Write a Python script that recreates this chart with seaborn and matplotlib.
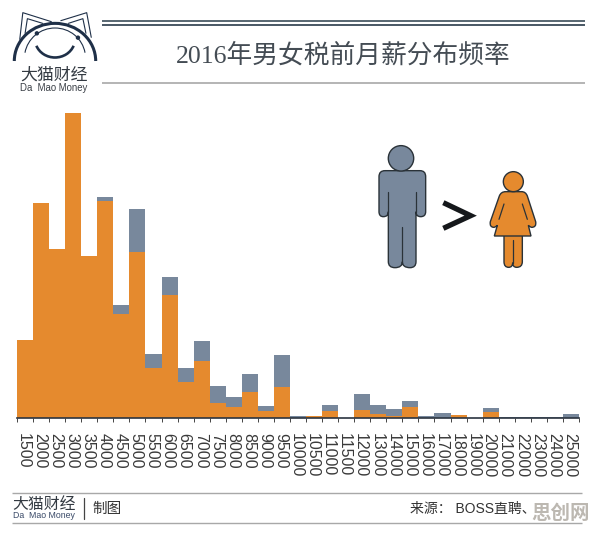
import numpy as np
import pandas as pd
import seaborn as sns
import matplotlib
matplotlib.use("Agg")
import matplotlib.pyplot as plt
from matplotlib.path import Path
from matplotlib.patches import PathPatch, Circle, Arc
from matplotlib.transforms import ScaledTranslation

# Monthly salary bands (yuan) and share of men / women in each band
salary_bands = ["1500", "2000", "2500", "3000", "3500", "4000", "4500", "5000", "5500",
                "6000", "6500", "7000", "7500", "8000", "8500", "9000", "9500", "10000",
                "10500", "11000", "11500", "12000", "13000", "14000", "15000", "16000",
                "17000", "18000", "19000", "20000", "21000", "22000", "23000", "24000", "25000"]
male_freq = [78, 214.7, 169.3, 304.7, 162, 220.7, 113, 208.7, 64, 140.7, 49.7, 77, 31.7,
             20.7, 44, 12, 63, 2, 2.3, 13, 0, 24.3, 13, 9, 17, 2, 4.7, 3.3, 0, 10.3,
             1, 1, 1, 1, 3.7]
female_freq = [78, 214.7, 169.3, 304.7, 162, 217.3, 104, 166.3, 49.7, 123.3, 36.3, 57.3, 15,
               10.7, 26.3, 7, 30.7, 0, 2.3, 7.3, 0, 8, 4, 2.3, 11.3, 0, 0, 3.3, 0, 5.7,
               0, 0, 0, 0, 0]

ORANGE = "#E58A2E"
SLATE = "#78889C"
NAVY = "#1F3048"
W, H = 596, 533

sns.set_theme(style="white")
plt.rcParams["font.family"] = ["Liberation Sans", "Noto Sans CJK SC", "DejaVu Sans"]

df = pd.DataFrame({"band": salary_bands, "male": male_freq, "female": female_freq})

fig = plt.figure(figsize=(W / 100, H / 100), dpi=100, facecolor="white")
ax = fig.add_axes([17 / W, (H - 418) / H, (579 - 17) / W, 318 / H])

# Men sit behind women, so slate only shows where the male share is larger
sns.barplot(data=df, x="band", y="male", order=salary_bands, color=SLATE, width=1,
            saturation=1, linewidth=0, ax=ax)
sns.barplot(data=df, x="band", y="female", order=salary_bands, color=ORANGE, width=1,
            saturation=1, linewidth=0, ax=ax)

ax.set_xlim(-0.5, len(salary_bands) - 0.5)
ax.set_ylim(0, 318)
ax.set_xlabel("")
ax.set_ylabel("")
ax.set_yticks([])
ax.set_xticks(np.arange(len(salary_bands)))
ax.set_xticks(np.arange(len(salary_bands) + 1) - 0.5, minor=True)
ax.tick_params(axis="x", which="major", length=0, pad=10.5)
ax.tick_params(axis="x", which="minor", length=3, width=0.7, color="#444444", bottom=True)
ax.set_xticklabels(salary_bands, rotation=270, ha="center", va="top", fontsize=11.5, color="#3a3a3a")
nudge = ScaledTranslation(-1.5 / 100, 0, fig.dpi_scale_trans)
for lab in ax.get_xticklabels():
    lab.set_transform(lab.get_transform() + nudge)
for side in ("top", "left", "right"):
    ax.spines[side].set_visible(False)
ax.spines["bottom"].set_color("#2b3440")
ax.spines["bottom"].set_linewidth(1.2)

# Overlay in pixel units for header, footer, logo and pictograms
ov = fig.add_axes([0, 0, 1, 1], facecolor="none")
ov.set_xlim(0, W)
ov.set_ylim(H, 0)
ov.axis("off")

def rule(x0, x1, y, color, lw):
    ov.plot([x0, x1], [y, y], color=color, lw=lw, solid_capstyle="butt")

rule(102, 585, 20.8, "#4a5a66", 1.3)
rule(102, 585, 24.5, "#3a4a58", 1.3)
rule(102, 585, 82.5, "#a8a8a8", 1.2)
rule(12, 582, 493, "#a8a8a8", 1.0)
rule(12, 582, 523, "#a8a8a8", 1.0)

ov.text(343, 55, "2016年男女税前月薪分布频率", ha="center", va="center", fontsize=18.5,
        color="#444c54", family=["Liberation Serif", "Noto Sans CJK SC"], weight="light")

# Logo: cat head with ears, brows and a smile
def lx(x):
    return x / 2.63
def ly(y):
    return y / 3

ov.add_patch(Arc((55, 61), 81.4, 75.3, theta1=180, theta2=360, color=NAVY, lw=2.2))
ov.add_patch(Arc((55, 58), 61, 60, theta1=190, theta2=350, color=NAVY, lw=0.8))
ov.add_patch(Arc((55, 39), 40, 37, theta1=20, theta2=160, color=NAVY, lw=1.9))
for pts in ([(52, 118), (60, 38), (135, 65)], [(240, 112), (228, 38), (160, 62)],
            [(66, 100), (72, 56), (112, 70)], [(226, 100), (218, 56), (180, 70)]):
    xs, ys = zip(*pts)
    ov.plot([lx(v) for v in xs], [ly(v) for v in ys], color=NAVY, lw=0.8)
for cx, cy in ((97, 100), (205, 113)):
    ov.add_patch(Circle((lx(cx), ly(cy)), 2.2, color=NAVY, lw=0))

ov.text(54.5, 74.5, "大猫财经", ha="center", va="center", fontsize=12.2, color="#333a42")
ov.text(54, 88, "Da  Mao Money", ha="center", va="center", fontsize=6.9, color="#3a3f46")

# Footer
ov.text(44, 504, "大猫财经", ha="center", va="center", fontsize=11.4, color="#333a42")
ov.text(43.5, 516, "Da  Mao Money", ha="center", va="center", fontsize=6.3, color="#3a4a68")
ov.plot([84, 84], [498, 519], color="#444444", lw=0.9)
ov.text(92, 509, "制图", ha="left", va="center", fontsize=10.5, color="#333333")
ov.text(410, 509, "来源： BOSS直聘、", ha="left", va="center", fontsize=10, color="#333333")
ov.text(561, 514, "思创网", ha="center", va="center", fontsize=14, weight="bold",
        color="#b9b4ad", alpha=0.95)

# Pictograms, traced on a 3x grid anchored at (360, 130)
def px(pts):
    return [(360 + x / 3, 130 + y / 3) for x, y in pts]

M, L, C = Path.MOVETO, Path.LINETO, Path.CURVE3
EDGE = "#2a3238"

man = [(75, 122), (180, 122), (197, 122), (197, 140), (197, 245), (197, 260), (182, 260),
       (168, 260), (168, 245), (168, 395), (168, 413), (150, 413), (127, 413), (127, 395),
       (127, 413), (105, 413), (85, 413), (85, 395), (85, 245), (85, 260), (70, 260),
       (57, 260), (57, 245), (57, 140), (57, 122), (75, 122)]
man_codes = [M, L, C, C, L, C, C, C, C, L, C, C, C, C, C, C, C, C, L, C, C, C, C, L, C, C]
ov.add_patch(PathPatch(Path(px(man), man_codes), facecolor=SLATE, edgecolor=EDGE, lw=1.0))
ov.add_patch(Circle((360 + 123 / 3, 130 + 85 / 3), 12.7, facecolor=SLATE, edgecolor=EDGE, lw=1.0))
for seg in ([(85, 185), (85, 245)], [(168, 185), (168, 245)], [(127, 290), (127, 400)]):
    xs, ys = zip(*px(seg))
    ov.plot(xs, ys, color=EDGE, lw=0.9)

legs = [(432, 310), (487, 310), (487, 395), (487, 412), (470, 412), (458, 412), (458, 398),
        (458, 412), (446, 412), (432, 412), (432, 395), (432, 310)]
legs_codes = [M, L, L, C, C, C, C, C, C, C, C, L]
ov.add_patch(PathPatch(Path(px(legs), legs_codes), facecolor=ORANGE, edgecolor=EDGE, lw=1.0))
dress = [(437, 185), (485, 185), (497, 185), (502, 198), (527, 275), (530, 292), (515, 292),
         (510, 291), (505, 286), (513, 318), (403, 318), (412, 286), (407, 291),
         (402, 292), (388, 292), (391, 275), (418, 198), (423, 185), (437, 185)]
dress_codes = [M, L, C, C, L, C, C, C, C, L, L, L, C, C, C, C, L, C, C]
ov.add_patch(PathPatch(Path(px(dress), dress_codes), facecolor=ORANGE, edgecolor=EDGE, lw=1.0))
ov.add_patch(Circle((360 + 460 / 3, 130 + 155 / 3), 10, facecolor=ORANGE, edgecolor=EDGE, lw=1.0))
for seg in ([(417, 268), (432, 222)], [(502, 268), (487, 222)], [(459, 330), (459, 398)]):
    xs, ys = zip(*px(seg))
    ov.plot(xs, ys, color=EDGE, lw=0.9)

xs, ys = zip(*px([(250, 218), (332, 257), (250, 295)]))
ov.plot(xs, ys, color="#15181b", lw=3.8, solid_joinstyle="miter", solid_capstyle="butt")

fig.savefig("out.png", dpi=100, facecolor="white")
